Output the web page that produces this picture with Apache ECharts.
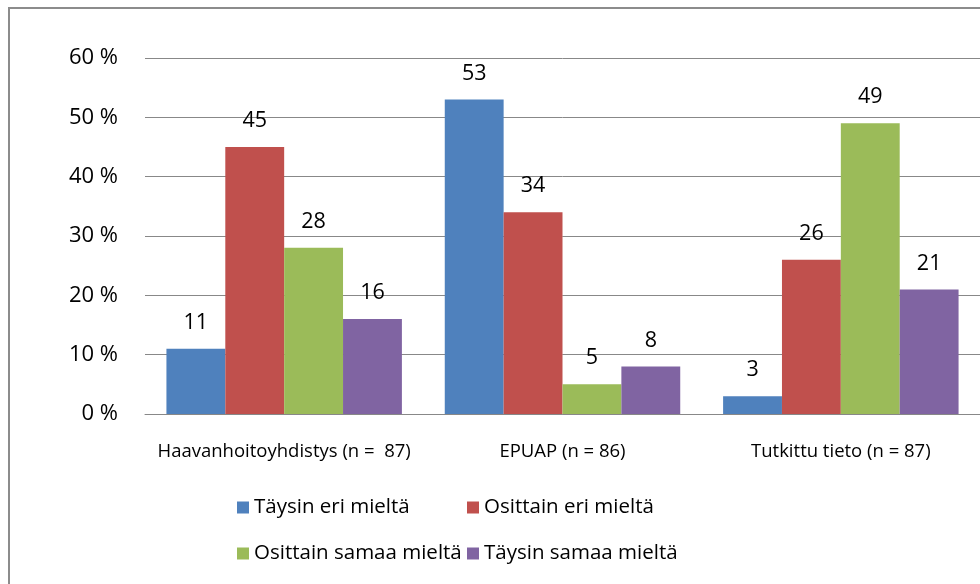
<!DOCTYPE html>
<html>
<head>
<meta charset="utf-8">
<script src="https://cdn.jsdelivr.net/npm/echarts@6/dist/echarts.min.js"></script>
<style>
html,body{margin:0;padding:0;background:#fff;}
#c{width:980px;height:584px;}
</style>
</head>
<body>
<div id="c"></div>
<script>
const categories = ['Haavanhoitoyhdistys (n =  87)', 'EPUAP (n = 86)', 'Tutkittu tieto (n = 87)'];
const seriesNames = ['Täysin eri mieltä', 'Osittain eri mieltä', 'Osittain samaa mieltä', 'Täysin samaa mieltä'];
const seriesColors = ['#4f81bd', '#c0504d', '#9bbb59', '#8064a2'];
const taysinEri = [11, 53, 3];
const osittainEri = [45, 34, 26];
const osittainSamaa = [28, 5, 49];
const taysinSamaa = [16, 8, 21];
const yTicks = [0, 10, 20, 30, 40, 50, 60];

const values = [taysinEri, osittainEri, osittainSamaa, taysinSamaa];
const font = 'Open Sans, sans-serif';

const chart = echarts.init(document.getElementById('c'), null, {renderer: 'canvas'});
const legendPos = [[232, 492], [462, 492], [232, 538], [462, 538]];
chart.setOption({
  animation: false,
  backgroundColor: '#fff',
  graphic: [{
    type: 'rect', left: 8, top: 7, z: -10,
    shape: {x: 0, y: 0, width: 1000, height: 1000},
    style: {fill: '#fff', stroke: '#8c8c8c', lineWidth: 2}
  }],
  grid: {left: 145, top: 58, width: 837, height: 356},
  legend: seriesNames.map((n, i) => ({
    data: [n], left: legendPos[i][0], top: legendPos[i][1],
    itemWidth: 12, itemHeight: 12, icon: 'rect', itemGap: 0,
    textStyle: {fontFamily: font, fontSize: 20.5, color: '#000', padding: [0, 0, 0, 0]}
  })),
  xAxis: {
    type: 'category', data: categories,
    axisLine: {lineStyle: {color: '#888', width: 1}},
    axisTick: {show: false},
    axisLabel: {fontFamily: font, fontSize: 18.5, color: '#000', margin: 28, interval: 0, hideOverlap: false}
  },
  yAxis: {
    type: 'value', min: 0, max: 60, interval: 10,
    axisLine: {show: false}, axisTick: {show: false},
    splitLine: {lineStyle: {color: '#888', width: 1}},
    axisLabel: {fontFamily: font, fontSize: 22, color: '#000', margin: 27,
      formatter: v => yTicks.includes(v) ? v + ' %' : ''}
  },
  series: seriesNames.map((n, i) => ({
    name: n, type: 'bar', data: values[i],
    barGap: '0%', barCategoryGap: '15.4%',
    itemStyle: {color: seriesColors[i]},
    label: {show: true, position: 'top', distance: 15, fontFamily: font, fontSize: 21.5, color: '#000'}
  }))
});
</script>
</body>
</html>
